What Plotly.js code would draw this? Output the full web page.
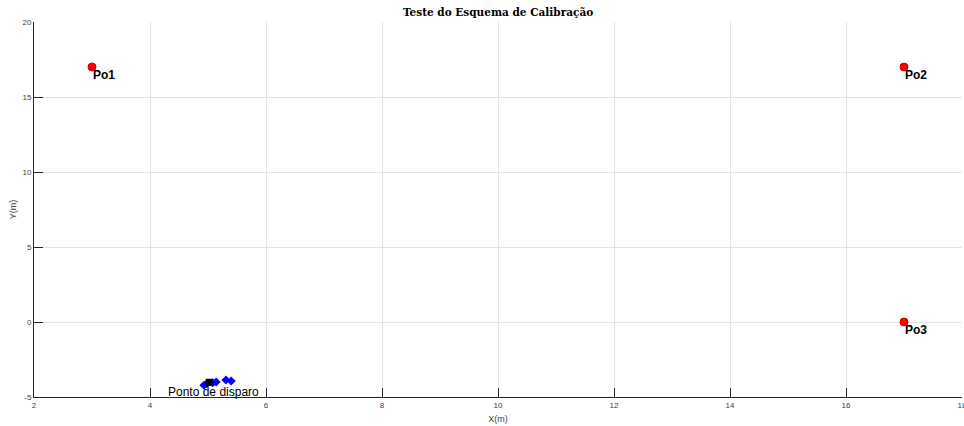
<!DOCTYPE html>
<html>
<head>
<meta charset="utf-8">
<script src="https://cdn.plot.ly/plotly-3.0.1.min.js"></script>
<style>html,body{margin:0;padding:0;background:#fff;}#chart{width:964px;height:426px;}</style>
</head>
<body>
<div id="chart"></div>
<script>
// Reference points
const refNames = ["Po1", "Po2", "Po3"];
const refX = [3, 17, 17];
const refY = [17, 17, 0];
// Estimated shots (blue diamonds)
const estX = [4.93, 4.98, 5.08, 5.14, 5.31, 5.40];
const estY = [-4.22, -4.12, -4.05, -4.0, -3.87, -3.93];
// Firing point (black square)
const fireX = [5.02];
const fireY = [-4.02];
const fireLabel = "Ponto de disparo";
const fireLabelX = 4.28;
const fireLabelY = -4.65;
const xTicks = [2, 4, 6, 8, 10, 12, 14, 16, 18];
const yTicks = [-5, 0, 5, 10, 15, 20];

const traces = [
  {x: refX, y: refY, mode: "markers", type: "scatter",
   marker: {color: "#ff0000", size: 8, line: {color: "#d00000", width: 1}}, hoverinfo: "skip"},
  {x: estX, y: estY, mode: "markers", type: "scatter",
   marker: {color: "#0000ff", symbol: "diamond", size: 7}, hoverinfo: "skip"},
  {x: fireX, y: fireY, mode: "markers", type: "scatter",
   marker: {color: "#000000", symbol: "square", size: 7}, hoverinfo: "skip"}
];

const annotations = refNames.map((n, i) => ({
  x: refX[i], y: refY[i], text: "<b>" + n + "</b>", showarrow: false,
  xanchor: "left", yanchor: "top", xshift: -1, yshift: 1,
  font: {family: "Liberation Sans, Arial, sans-serif", size: 12, color: "#000"}
}));
annotations.push({
  x: fireLabelX, y: fireLabelY, text: fireLabel, showarrow: false,
  xanchor: "left", yanchor: "middle",
  font: {family: "Liberation Sans, Arial, sans-serif", size: 12, color: "#000"}
});

const axisCommon = {
  showgrid: true, gridcolor: "#e3e3e3", gridwidth: 1,
  zeroline: false, showline: true, linecolor: "#262626", linewidth: 1,
  ticks: "inside", ticklen: 9, tickcolor: "#262626", tickwidth: 1,
  ticklabeloverflow: "allow",
  tickfont: {family: "Liberation Sans, Arial, sans-serif", size: 8, color: "#404040"},
  mirror: false
};

const layout = {
  width: 964, height: 426,
  margin: {l: 34, r: 2, t: 22, b: 29},
  paper_bgcolor: "#ffffff", plot_bgcolor: "#ffffff",
  showlegend: false,
  title: {text: "<b>Teste do Esquema de Calibração</b>", x: 0.5167, xanchor: "center", y: 0.97, yanchor: "middle",
    font: {family: "DejaVu Serif, Liberation Serif, serif", size: 10.5, color: "#000"}},
  xaxis: Object.assign({}, axisCommon, {
    range: [2, 18], tickvals: xTicks, ticktext: xTicks.map(String),
    title: {text: "X(m)", standoff: 7, font: {family: "Liberation Sans, Arial, sans-serif", size: 9, color: "#404040"}}
  }),
  yaxis: Object.assign({}, axisCommon, {
    range: [-5, 20], tickvals: yTicks, ticktext: yTicks.map(String),
    title: {text: "Y(m)", standoff: 4, font: {family: "Liberation Sans, Arial, sans-serif", size: 9, color: "#404040"}}
  }),
  annotations: annotations
};

Plotly.newPlot("chart", traces, layout, {displayModeBar: false, staticPlot: true});
</script>
</body>
</html>
